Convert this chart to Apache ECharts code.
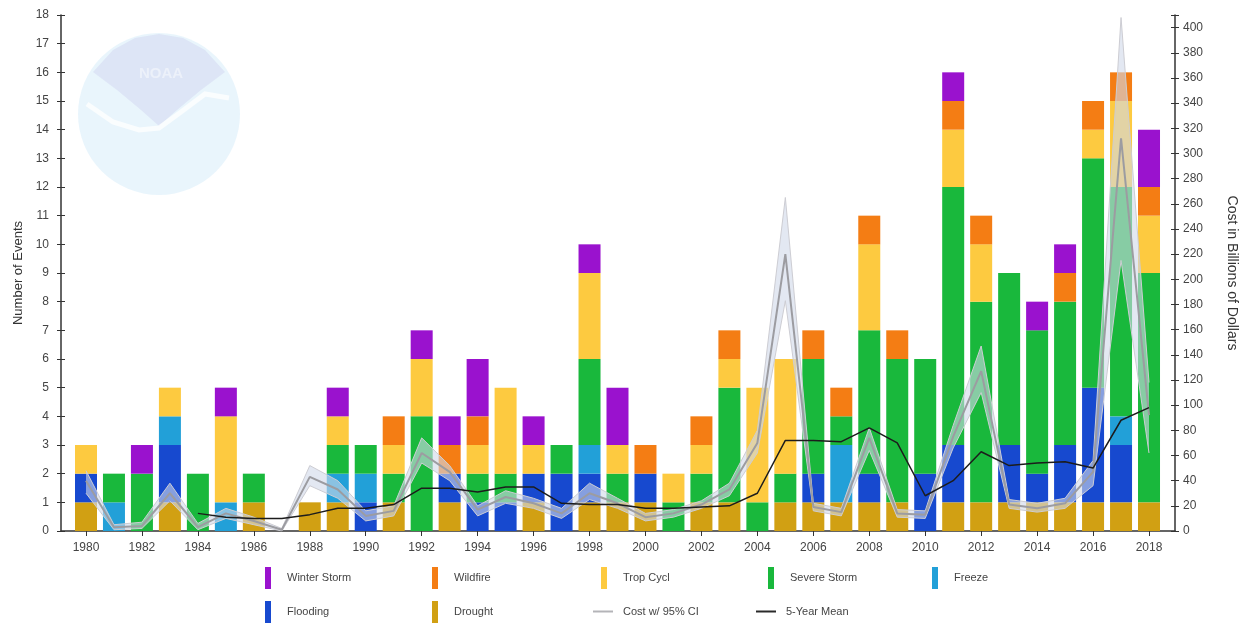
<!DOCTYPE html>
<html>
<head>
<meta charset="utf-8">
<script src="https://cdn.jsdelivr.net/npm/echarts@6/dist/echarts.min.js"></script>
<style>
  html, body { margin: 0; padding: 0; background: #fff; }
  #chart { width: 1241px; height: 626px; }
</style>
</head>
<body>
<div id="chart"></div>
<script>
// Billion-dollar disaster events per year (count, stacked by type) and cost in billions
const years = ['1980', '1981', '1982', '1983', '1984', '1985', '1986', '1987', '1988', '1989',
               '1990', '1991', '1992', '1993', '1994', '1995', '1996', '1997', '1998', '1999',
               '2000', '2001', '2002', '2003', '2004', '2005', '2006', '2007', '2008', '2009',
               '2010', '2011', '2012', '2013', '2014', '2015', '2016', '2017', '2018'];

const drought     = [1,0,0,1,0,0,1,0,1,1, 0,1,0,1,0,0,1,0,1,1, 1,0,1,1,0,1,1,1,1,1, 0,1,1,1,1,1,1,1,1];
const flooding    = [1,0,0,2,0,0,0,0,0,0, 1,0,0,1,1,1,1,2,1,0, 1,0,0,0,0,0,1,0,1,0, 2,2,0,2,1,2,4,2,0];
const freeze      = [0,1,0,1,0,1,0,0,0,1, 1,0,0,0,0,0,0,0,1,0, 0,0,0,0,0,0,0,2,0,0, 0,0,0,0,0,0,0,1,0];
const severeStorm = [0,1,2,0,2,0,1,0,0,1, 1,1,4,0,1,1,0,1,3,1, 0,1,1,4,1,1,4,1,5,5, 4,9,7,6,5,5,8,8,8];
const tropCycl    = [1,0,0,1,0,3,0,0,0,1, 0,1,2,0,1,3,1,0,3,1, 0,1,1,1,4,4,0,0,3,0, 0,2,2,0,0,0,1,3,2];
const wildfire    = [0,0,0,0,0,0,0,0,0,0, 0,1,0,1,1,0,0,0,0,0, 1,0,1,1,0,0,1,1,1,1, 0,1,1,0,0,1,1,1,1];
const winterStorm = [0,0,1,0,0,1,0,0,0,1, 0,0,1,1,2,0,1,0,1,2, 0,0,0,0,0,0,0,0,0,0, 0,1,0,0,1,1,0,0,2];

// Cost in billions of dollars, its 95% confidence bounds, and the 5-year mean
const cost   = [40, 3, 4, 30, 3, 14, 8, 1, 43, 33, 12, 16, 62, 47, 17, 27, 22, 14, 30, 22,
                11, 14, 21, 33, 70, 220, 19, 15, 74, 14, 13, 75, 127, 21, 18, 22, 47, 312, 92];
const ciLow  = [30, 1, 2, 24, 1, 10, 5, 0, 36, 26, 8, 12, 54, 40, 12, 22, 18, 10, 25, 18,
                8, 11, 18, 28, 62, 183, 16, 12, 64, 11, 10, 66, 110, 18, 15, 18, 36, 215, 62];
const ciHigh = [48, 5, 7, 38, 6, 18, 11, 2, 52, 40, 16, 20, 74, 52, 20, 32, 26, 18, 38, 26,
                14, 17, 24, 38, 80, 265, 22, 18, 82, 17, 16, 84, 147, 25, 22, 26, 56, 408, 118];
const fiveYearMean = [null, null, null, null, 14, 11, 10, 10, 13, 18, 18, 21, 34, 34, 31, 35, 35, 22, 21, 21,
                      18, 18, 19, 20, 30, 72, 72, 71, 82, 70, 28, 40, 63, 52, 54, 55, 50, 88, 98];

const TEXT = '#444';
const AXIS = '#333';
const FONT = 'Liberation Sans, Arial, sans-serif';

const barDefs = [
  ['Drought', drought, '#D1A013'],
  ['Flooding', flooding, '#1749CF'],
  ['Freeze', freeze, '#22A0D8'],
  ['Severe Storm', severeStorm, '#19B83C'],
  ['Trop Cycl', tropCycl, '#FDCA40'],
  ['Wildfire', wildfire, '#F47D14'],
  ['Winter Storm', winterStorm, '#9A12CE']
];

const barSeries = barDefs.map(([name, arr, color]) => ({
  name, type: 'bar', stack: 'events', barWidth: 22,
  xAxisIndex: 1, yAxisIndex: 2,
  data: arr,
  itemStyle: { color },
  emphasis: { disabled: true },
  z: 2
}));

const lineBase = { type: 'line', xAxisIndex: 1, yAxisIndex: 3, symbol: 'none', emphasis: { disabled: true } };
const lineSeries = [
  Object.assign({}, lineBase, {
    name: 'ciLower', stack: 'ci', data: ciLow, silent: true,
    lineStyle: { color: '#cdcdd3', width: 1 }, z: 3
  }),
  Object.assign({}, lineBase, {
    name: 'ciUpper', stack: 'ci', data: ciHigh.map((h, i) => h - ciLow[i]), silent: true,
    lineStyle: { color: '#cdcdd3', width: 1 },
    areaStyle: { color: 'rgba(208,216,234,0.6)', opacity: 1 }, z: 3
  }),
  Object.assign({}, lineBase, {
    name: 'Cost w/ 95% CI', data: cost,
    lineStyle: { color: '#9c9ca1', width: 2 }, itemStyle: { color: '#b4b4b8' }, z: 4
  }),
  Object.assign({}, lineBase, {
    name: '5-Year Mean', data: fiveYearMean,
    lineStyle: { color: '#1c1c1c', width: 1.5 }, itemStyle: { color: '#2a2a2a' }, z: 5
  })
];

// One legend block per entry, laid out in two rows under the plot
function legendItem(name, left, top, isLine) {
  return {
    data: [name], left, top, orient: 'horizontal', padding: 0,
    icon: 'rect',
    itemWidth: isLine ? 20 : 6, itemHeight: isLine ? 2 : 22,
    selectedMode: false,
    textStyle: { color: TEXT, fontSize: 11, fontFamily: FONT, padding: [0, 0, 0, isLine ? 5 : 11] }
  };
}
const legends = [
  legendItem('Winter Storm', 265, 567),
  legendItem('Wildfire', 432, 567),
  legendItem('Trop Cycl', 601, 567),
  legendItem('Severe Storm', 768, 567),
  legendItem('Freeze', 932, 567),
  legendItem('Flooding', 265, 601),
  legendItem('Drought', 432, 601),
  legendItem('Cost w/ 95% CI', 593, 606, true),
  legendItem('5-Year Mean', 756, 606, true)
];

const hiddenAxis = { show: false, axisLine: { show: false }, axisTick: { show: false },
                     axisLabel: { show: false }, splitLine: { show: false } };

const option = {
  animation: false,
  backgroundColor: '#ffffff',
  textStyle: { fontFamily: FONT },
  graphic: [
    {
      type: 'group', left: 78, top: 33, z: 0, silent: true,
      children: [
        { type: 'circle', shape: { cx: 82, cy: 82, r: 81 }, style: { fill: 'rgba(200,230,248,0.4)' } },
        { type: 'polygon',
          shape: { points: [[16, 40], [36, 18], [58, 6], [82, 2], [106, 6], [128, 18], [148, 40],
                            [124, 58], [100, 78], [82, 94], [64, 78], [40, 58]] },
          style: { fill: 'rgba(196,196,234,0.32)' } },
        { type: 'polyline',
          shape: { points: [[10, 72], [36, 90], [62, 98], [82, 96], [104, 80], [128, 62], [152, 66]] },
          style: { stroke: 'rgba(255,255,255,0.75)', lineWidth: 5, fill: null } },
        { type: 'text', x: 62, y: 34,
          style: { text: 'NOAA', fill: 'rgba(255,255,255,0.45)',
                   font: 'bold 15px Liberation Sans, Arial, sans-serif' } }
      ]
    }
  ],
  legend: legends,
  grid: [
    { left: 61, right: 66, top: 15, bottom: 95, containLabel: false, outerBoundsMode: 'none' },
    { left: 72, right: 78, top: 15, bottom: 95, containLabel: false, outerBoundsMode: 'none' }
  ],
  xAxis: [
    {
      gridIndex: 0, type: 'value', min: 0, max: 1,
      axisLine: { show: true, onZero: false, lineStyle: { color: AXIS, width: 1.5 } },
      axisTick: { show: false }, axisLabel: { show: false }, splitLine: { show: false }
    },
    {
      gridIndex: 1, type: 'category', data: years, boundaryGap: true,
      axisLine: { show: false, onZero: false },
      axisTick: { show: true, alignWithLabel: true, interval: 1, length: 5, lineStyle: { color: AXIS } },
      axisLabel: { interval: 1, color: TEXT, fontSize: 12, margin: 11, fontFamily: FONT },
      splitLine: { show: false }
    }
  ],
  yAxis: [
    {
      gridIndex: 0, type: 'value', position: 'left', min: 0, max: 18, interval: 1,
      name: 'Number of Events', nameLocation: 'middle', nameGap: 35, nameRotate: 90,
      nameTextStyle: { color: AXIS, fontSize: 13, fontFamily: FONT },
      axisLine: { show: true, lineStyle: { color: AXIS, width: 1.5 } },
      axisTick: { show: true, length: 4, lineStyle: { color: AXIS } },
      axisLabel: { color: TEXT, fontSize: 12, margin: 12, fontFamily: FONT },
      splitLine: { show: false }
    },
    {
      gridIndex: 0, type: 'value', position: 'right', min: 0, max: 410, interval: 20,
      name: 'Cost in Billions of Dollars', nameLocation: 'middle', nameGap: 50, nameRotate: -90,
      nameTextStyle: { color: AXIS, fontSize: 14, fontFamily: FONT },
      axisLine: { show: true, lineStyle: { color: AXIS, width: 1.5 } },
      axisTick: { show: true, length: 4, lineStyle: { color: AXIS } },
      axisLabel: {
        color: TEXT, fontSize: 12, margin: 8, fontFamily: FONT,
        formatter: v => (v % 20 === 0 ? String(v) : '')
      },
      splitLine: { show: false }
    },
    Object.assign({ gridIndex: 1, type: 'value', min: 0, max: 18, interval: 1 }, hiddenAxis),
    Object.assign({ gridIndex: 1, type: 'value', min: 0, max: 410, interval: 20 }, hiddenAxis),
    // inner halves of the cross-shaped ticks on both vertical axes
    {
      gridIndex: 0, type: 'value', position: 'left', min: 0, max: 18, interval: 1,
      axisLine: { show: false }, axisLabel: { show: false }, splitLine: { show: false },
      axisTick: { show: true, inside: true, length: 4, lineStyle: { color: AXIS } }
    },
    {
      gridIndex: 0, type: 'value', position: 'right', min: 0, max: 410, interval: 20,
      axisLine: { show: false }, axisLabel: { show: false }, splitLine: { show: false },
      axisTick: { show: true, inside: true, length: 4, lineStyle: { color: AXIS } }
    }
  ],
  series: barSeries.concat(lineSeries)
};

const chart = echarts.init(document.getElementById('chart'));
chart.setOption(option);
</script>
</body>
</html>
